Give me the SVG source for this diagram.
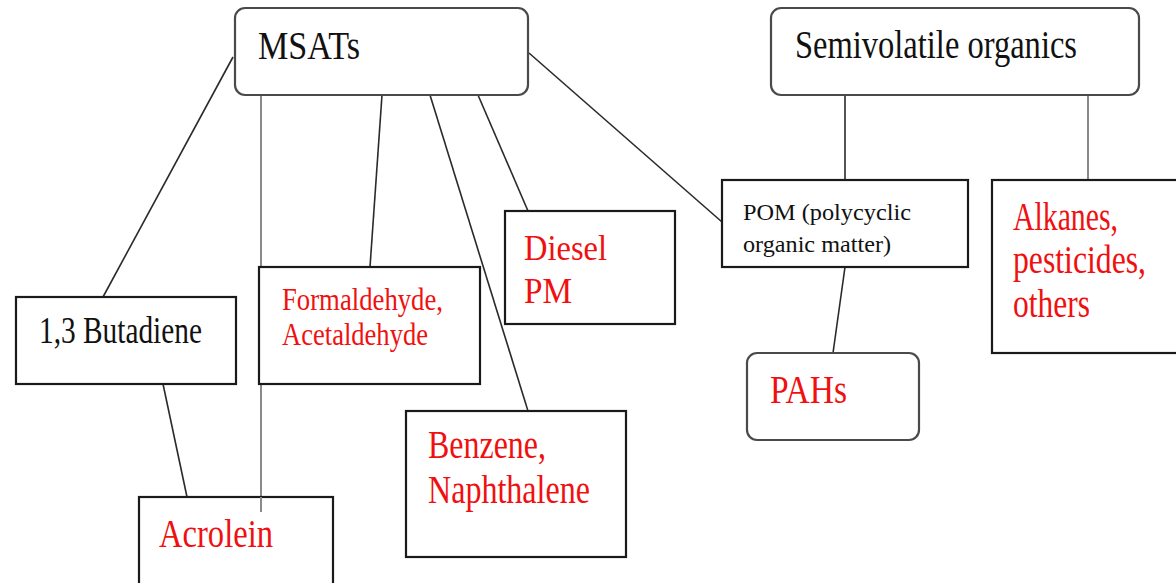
<svg xmlns="http://www.w3.org/2000/svg" width="1176" height="583" viewBox="0 0 1176 583">
<style>
.box{fill:#fff;stroke:#1a1a1a;stroke-width:2.2}
.rbox{fill:#fff;stroke:#4a4a4a;stroke-width:2.2}
.ln{stroke:#2a2a2a;stroke-width:1.6;fill:none}
.gl{stroke:#8a8a8a;stroke-width:2;fill:none}
text{font-family:"Liberation Serif","Times New Roman",serif}
.k{fill:#111}
.r{fill:#f01010}
</style>
<rect width="1176" height="583" fill="#fff"/>
<g id="connectors">
<line class="ln" x1="233" y1="57" x2="103" y2="297"/>
<line class="gl" x1="261" y1="95" x2="261" y2="512"/>
<line class="ln" x1="382" y1="95" x2="370" y2="267"/>
<line class="ln" x1="430" y1="95" x2="528" y2="411"/>
<line class="ln" x1="478" y1="95" x2="528" y2="211"/>
<line class="ln" x1="529" y1="53" x2="722" y2="222"/>
<line class="ln" x1="845" y1="95" x2="845" y2="180"/>
<line class="gl" x1="1088" y1="95" x2="1088" y2="180"/>
<line class="ln" x1="845" y1="267" x2="833" y2="353"/>
<line class="ln" x1="163" y1="384" x2="187" y2="497"/>
</g>
<g id="msats">
<rect class="rbox" x="235" y="8" width="293" height="87" rx="10"/>
<text class="k" x="258" y="59" font-size="39" textLength="102" lengthAdjust="spacingAndGlyphs">MSATs</text>
</g>
<g id="semivolatile">
<rect class="rbox" x="771" y="8" width="368" height="87" rx="10"/>
<text class="k" x="795" y="58" font-size="39" textLength="282" lengthAdjust="spacingAndGlyphs">Semivolatile organics</text>
</g>
<g id="butadiene">
<rect class="box" x="16" y="297" width="220" height="87"/>
<text class="k" x="39" y="343" font-size="37" textLength="163" lengthAdjust="spacingAndGlyphs">1,3 Butadiene</text>
</g>
<g id="formaldehyde">
<rect class="box" x="259" y="267" width="221" height="117"/>
<text class="r" x="282" y="310" font-size="31" textLength="161" lengthAdjust="spacingAndGlyphs">Formaldehyde,</text>
<text class="r" x="282" y="345" font-size="31" textLength="146" lengthAdjust="spacingAndGlyphs">Acetaldehyde</text>
</g>
<g id="diesel">
<rect class="box" x="505" y="211" width="170" height="113"/>
<text class="r" x="524" y="260" font-size="36" textLength="83" lengthAdjust="spacingAndGlyphs">Diesel</text>
<text class="r" x="524" y="303" font-size="36" textLength="48" lengthAdjust="spacingAndGlyphs">PM</text>
</g>
<g id="pom">
<rect class="box" x="722" y="180" width="246" height="87"/>
<text class="k" x="743" y="220" font-size="23" textLength="168" lengthAdjust="spacingAndGlyphs">POM (polycyclic</text>
<text class="k" x="743" y="252" font-size="23" textLength="148" lengthAdjust="spacingAndGlyphs">organic matter)</text>
</g>
<g id="alkanes">
<rect class="box" x="992" y="180" width="200" height="173"/>
<text class="r" x="1013" y="230" font-size="39" textLength="105" lengthAdjust="spacingAndGlyphs">Alkanes,</text>
<text class="r" x="1013" y="273" font-size="39" textLength="133" lengthAdjust="spacingAndGlyphs">pesticides,</text>
<text class="r" x="1013" y="317" font-size="39" textLength="77" lengthAdjust="spacingAndGlyphs">others</text>
</g>
<g id="pahs">
<rect class="rbox" x="747" y="353" width="172" height="87" rx="10"/>
<text class="r" x="770" y="403" font-size="39" textLength="77" lengthAdjust="spacingAndGlyphs">PAHs</text>
</g>
<g id="benzene">
<rect class="box" x="406" y="411" width="220" height="146"/>
<text class="r" x="428" y="458" font-size="39" textLength="118" lengthAdjust="spacingAndGlyphs">Benzene,</text>
<text class="r" x="428" y="503" font-size="39" textLength="162" lengthAdjust="spacingAndGlyphs">Naphthalene</text>
</g>
<g id="acrolein">
<rect class="box" x="139" y="497" width="194" height="100"/>
<text class="r" x="159" y="547" font-size="40" textLength="114" lengthAdjust="spacingAndGlyphs">Acrolein</text>
</g>
<line class="gl" x1="261" y1="497" x2="261" y2="512"/>
</svg>
